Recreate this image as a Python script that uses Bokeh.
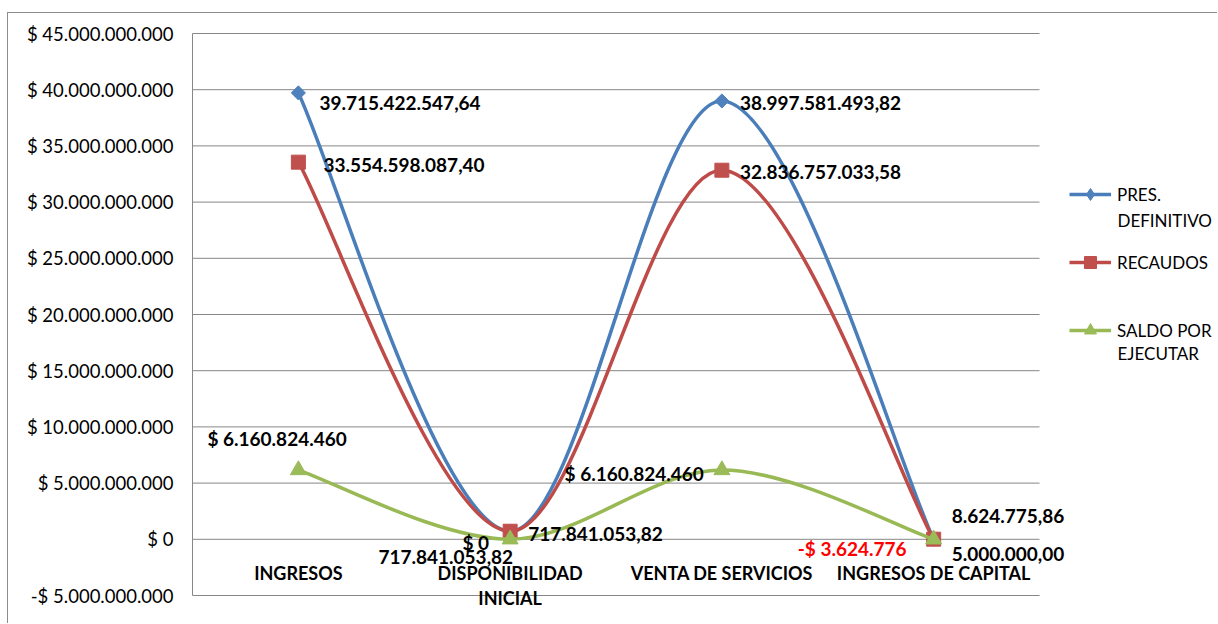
import numpy as np
from bokeh.plotting import figure
from bokeh.models import Range1d, FixedTicker, Legend, LegendItem, Label, ColumnDataSource
from bokeh.core.properties import value
from bokeh.embed import file_html
from bokeh.resources import INLINE

# ---------------- data ----------------
categories = ["INGRESOS", "DISPONIBILIDAD\nINICIAL", "VENTA DE SERVICIOS", "INGRESOS DE CAPITAL"]
pres_definitivo = [39715422547.64, 717841053.82, 38997581493.82, 5000000.00]
recaudos = [33554598087.40, 717841053.82, 32836757033.58, 8624775.86]
saldo_por_ejecutar = [6160824460, 0, 6160824460, -3624776]
y_ticks = [-5e9, 0, 5e9, 10e9, 15e9, 20e9, 25e9, 30e9, 35e9, 40e9, 45e9]

# ---------------- layout (page pixels) ----------------
FIG_X0, FIG_Y0 = 8, 13            # canvas origin on the page (after css margin + border)
FIG_W, FIG_H = 1210, 611
PLOT_L, PLOT_R, PLOT_T, PLOT_B = 192, 1039, 33, 595   # Excel plot area
FRAME_L = 190

ky = (y_ticks[-1] - y_ticks[0]) / (PLOT_B - PLOT_T)
kx = len(categories) / (PLOT_R - PLOT_L)
y_start = y_ticks[0] - (FIG_Y0 + FIG_H - PLOT_B) * ky
y_end = y_ticks[-1] + (PLOT_T - FIG_Y0) * ky
x_start = -(PLOT_L - FRAME_L) * kx
x_end = len(categories) + (FIG_X0 + FIG_W - PLOT_R) * kx

# ---------------- styles ----------------
FONT = value("Lato")
BLUE_L, BLUE_M = "#4A7EBB", "#4F81BD"
RED_L, RED_M = "#BE4B48", "#C0504D"
GREEN_L, GREEN_M = "#98B954", "#9BBB59"
GRID = "#878787"

pres_lbl = dict(dx=[21, 18, 18, 18], dy=[10, 3, 2, 15], align=["left", "left", "left", "left"])
rec_lbl = dict(dx=[25, 3, 18, 18], dy=[3, 26, 2, -23], align=["left", "right", "left", "left"])
sal_lbl = dict(dx=[-91, -21, -18, -27], dy=[-32, 3, 3, 9], align=["left", "right", "right", "right"])


def fmt_amount(v):
    s = f"{v:,.2f}"
    return s.replace(",", "#").replace(".", ",").replace("#", ".")


def fmt_money(v):
    sign = "-" if v < 0 else ""
    return f"{sign}$ {abs(int(round(v))):,}".replace(",", ".")


def smooth(xs, ys):
    """Excel-like smoothed line: cubic Bezier segments (Catmull-Rom, 1/6 tension)."""
    n = len(xs)
    out = dict(x0=[], y0=[], x1=[], y1=[], cx0=[], cy0=[], cx1=[], cy1=[])
    for i in range(n - 1):
        a = i - 1 if i > 0 else i
        d = i + 2 if i + 2 < n else i + 1
        out["x0"].append(xs[i]); out["y0"].append(ys[i])
        out["x1"].append(xs[i + 1]); out["y1"].append(ys[i + 1])
        out["cx0"].append(xs[i] + (xs[i + 1] - xs[a]) / 6)
        out["cy0"].append(ys[i] + (ys[i + 1] - ys[a]) / 6)
        out["cx1"].append(xs[i + 1] - (xs[d] - xs[i]) / 6)
        out["cy1"].append(ys[i + 1] - (ys[d] - ys[i]) / 6)
    return out


n = len(categories)
xs = list(np.arange(n) + 0.5)

p = figure(width=FIG_W, height=FIG_H, output_backend="svg", toolbar_location=None,
           x_range=Range1d(x_start, x_end), y_range=Range1d(y_start, y_end),
           x_axis_location=None, min_border_left=FRAME_L - FIG_X0, min_border_right=0,
           min_border_top=0, min_border_bottom=0)
p.styles = {"margin-left": "7px", "margin-top": "12px",
            "border-left": "1px solid #8C8C8C", "border-top": "1px solid #8C8C8C"}
p.outline_line_color = None
p.background_fill_color = "white"
p.border_fill_color = "white"
p.xgrid.visible = False
p.ygrid.visible = False

# gridlines and the value-axis line, limited to the plot area
p.segment(x0=[0] * len(y_ticks), x1=[n] * len(y_ticks), y0=y_ticks, y1=y_ticks,
          line_color=GRID, line_width=1)
p.segment(x0=[0], x1=[0], y0=[y_ticks[0]], y1=[y_ticks[-1]], line_color=GRID, line_width=1)

p.yaxis.ticker = FixedTicker(ticks=y_ticks)
p.yaxis.major_label_overrides = {t: fmt_money(t) for t in y_ticks}
p.yaxis.axis_line_color = None
p.yaxis.major_tick_line_color = None
p.yaxis.minor_tick_line_color = None
p.yaxis.major_tick_in = 0
p.yaxis.major_tick_out = 0
p.yaxis.major_label_standoff = 17
p.yaxis.major_label_text_font = "Lato"
p.yaxis.major_label_text_font_size = "18.5px"
p.yaxis.major_label_text_color = "#000000"

# name, values, line colour, marker colour, chart marker, angle, size, legend marker
series = [
    ("PRES.", pres_definitivo, BLUE_L, BLUE_M, "square", np.pi / 4, 10, "diamond", pres_lbl, fmt_amount),
    ("RECAUDOS", recaudos, RED_L, RED_M, "square", 0, 14, "square", rec_lbl, fmt_amount),
    ("SALDO POR", saldo_por_ejecutar, GREEN_L, GREEN_M, "triangle", 0, 16, "triangle", sal_lbl, fmt_money),
]

legend_items = []
for name, vals, lc, mc, marker, ang, size, lmarker, lbl, fmt in series:
    seg = ColumnDataSource(smooth(xs, vals))
    b = p.bezier("x0", "y0", "x1", "y1", "cx0", "cy0", "cx1", "cy1", source=seg,
                 line_color=lc, line_width=3.5)
    s = p.scatter(xs, vals, marker=marker, angle=ang, size=size,
                  fill_color=mc, line_color=mc)
    if lmarker != marker:
        # legend swatch only (undrawable NaN point): Excel shows a diamond in the legend
        s = p.scatter(x=[np.nan], y=[np.nan], marker=lmarker, size=size,
                      fill_color=mc, line_color=mc)
    legend_items.append(LegendItem(label=name, renderers=[b, s]))

for name, vals, lc, mc, marker, ang, size, lmarker, lbl, fmt in series:
    texts = [fmt(v) for v in vals]
    colors = ["#FF0000" if v < 0 else "#000000" for v in vals]
    src = ColumnDataSource(dict(x=xs, y=vals, t=texts, c=colors, dx=lbl["dx"],
                                dy=lbl["dy"], al=lbl["align"]))
    p.text("x", "y", text="t", source=src, x_offset="dx", y_offset="dy",
           text_align="al", text_baseline="middle", text_color="c",
           text_font=FONT, text_font_style="bold", text_font_size="19px")

# category labels (category axis crosses at 0)
p.text(xs, [0] * n, text=categories, text_align="center", text_baseline="top",
       y_offset=23, text_font=FONT, text_font_style="bold", text_font_size="18px",
       text_line_height=1.13, text_color="#000000")

# legend (one block per series, placed like Excel's)
frame_bottom = FIG_Y0 + FIG_H
GLYPH_H = 30
legend_rows = [194, 262, 330]
for item, row in zip(legend_items, legend_rows):
    lg = Legend(items=[item], location=(1069 - FRAME_L, frame_bottom - (row + GLYPH_H / 2)),
                glyph_width=42, glyph_height=GLYPH_H, label_height=GLYPH_H, label_standoff=6,
                padding=0, margin=0, spacing=0, border_line_color=None,
                background_fill_alpha=0, label_text_font="Lato",
                label_text_font_size="17px", label_text_color="#000000")
    p.add_layout(lg)

for txt, row in [("DEFINITIVO", 220), ("EJECUTAR", 353)]:
    p.add_layout(Label(x=1117 - FRAME_L, y=frame_bottom - row, x_units="screen", y_units="screen",
                       text=txt, text_baseline="middle", text_font="Lato",
                       text_font_size="17px", text_color="#000000"))

open("out.html", "w").write(file_html(p, INLINE))
